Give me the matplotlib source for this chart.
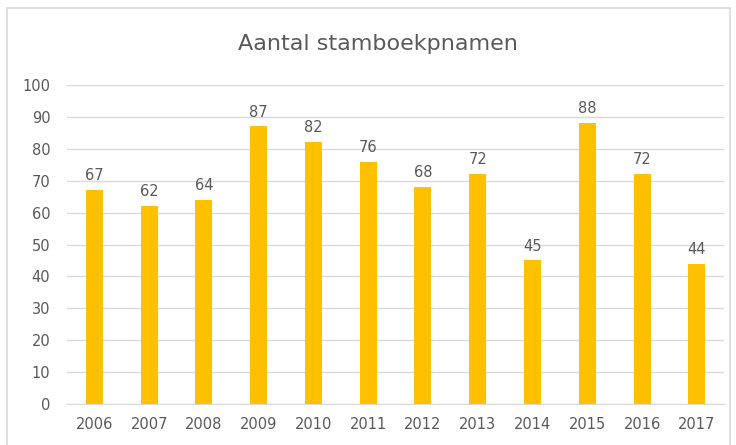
import numpy as np
from matplotlib import pyplot as plt
from matplotlib.patches import Rectangle

years = ['2006', '2007', '2008', '2009', '2010', '2011', '2012', '2013', '2014', '2015', '2016', '2017']
counts = [67, 62, 64, 87, 82, 76, 68, 72, 45, 88, 72, 44]

fig = plt.figure(figsize=(7.36, 4.45), dpi=100)
# chart frame
fig.patches.append(Rectangle((7 / 736, -0.05), 723 / 736, 1 - 8 / 445 + 0.05, transform=fig.transFigure,
                             fill=False, edgecolor='#D9D9D9', linewidth=1.2))
ax = fig.add_axes([0.091, 0.092, 0.893, 0.717])
X = np.arange(len(years))
bars = ax.bar(X, counts, width=0.31, color='#FFC000', zorder=3)
ax.bar_label(bars, labels=[str(v) for v in counts], padding=5, fontsize=10.5, color='#595959')

ax.set_xlim(-0.5, len(years) - 0.5)
ax.set_ylim(0, 100)
ax.set_yticks(np.arange(0, 101, 10))
ax.set_xticks(X, years)
ax.tick_params(axis='both', length=0, labelsize=10.5, labelcolor='#595959')
ax.tick_params(axis='y', pad=12)
ax.tick_params(axis='x', pad=9)
for s in ['top', 'right', 'left']:
    ax.spines[s].set_visible(False)
ax.spines['bottom'].set_color('#D9D9D9')
ax.grid(axis='y', color='#D9D9D9', linewidth=1, zorder=0)
fig.text(0.514, 0.9, 'Aantal stamboekpnamen', ha='center', va='center', fontsize=16, color='#595959')
plt.savefig('out.png')
